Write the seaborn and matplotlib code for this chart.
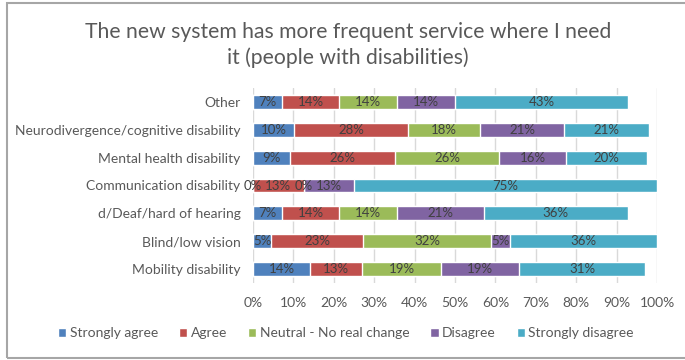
import numpy as np
import pandas as pd
import matplotlib.pyplot as plt
import seaborn as sns
from matplotlib.patches import Rectangle

# Chart data (percent of respondents)
groups = [
    "Other",
    "Neurodivergence/cognitive disability",
    "Mental health disability",
    "Communication disability",
    "d/Deaf/hard of hearing",
    "Blind/low vision",
    "Mobility disability",
]
responses = ["Strongly agree", "Agree", "Neutral - No real change", "Disagree", "Strongly disagree"]
strongly_agree = [7.1, 10.2, 9.2, 0.0, 7.1, 4.5, 14.1]
agree = [14.3, 28.1, 25.9, 12.5, 14.3, 22.7, 13.0]
neutral = [14.3, 17.9, 25.9, 0.0, 14.3, 31.8, 19.4]
disagree = [14.3, 20.8, 16.4, 12.5, 21.4, 4.5, 19.4]
strongly_disagree = [42.9, 20.9, 20.1, 75.0, 35.7, 36.4, 31.2]
x_ticks = [0, 10, 20, 30, 40, 50, 60, 70, 80, 90, 100]

colors = ["#4F81BD", "#C0504D", "#9BBB59", "#8064A2", "#4BACC6"]

df = pd.DataFrame(
    {"group": groups, responses[0]: strongly_agree, responses[1]: agree,
     responses[2]: neutral, responses[3]: disagree, responses[4]: strongly_disagree}
)
cum = df[responses].cumsum(axis=1)

sns.set_style("white")
plt.rcParams["font.family"] = ["Lato", "DejaVu Sans"]
text_col = "#595959"

fig = plt.figure(figsize=(6.85, 3.6), dpi=100)
ax = fig.add_axes([253 / 685, 1 - 283 / 360, 404 / 685, 195 / 360])

# stacked look: draw cumulative totals from the longest down
for resp, col in reversed(list(zip(responses, colors))):
    sns.barplot(x=cum[resp], y=df["group"], orient="h", color=col,
                width=0.5, saturation=1, ax=ax, zorder=3, label=resp)

# data labels centred in each segment
for i, g in enumerate(groups):
    start = 0.0
    for resp in responses:
        v = df.loc[i, resp]
        ax.text(start + v / 2, i, f"{int(np.floor(v + 0.5))}%", ha="center", va="center",
                fontsize=9.5, color="#404040", zorder=5)
        start += v

ax.set_xlim(0, 100)
ax.set_ylim(6.5, -0.5)
ax.set_xticks(x_ticks)
ax.set_xticklabels([f"{t}%" for t in x_ticks])
ax.xaxis.grid(True, color="#D9D9D9", linewidth=1, zorder=0)
ax.set_axisbelow(True)
ax.tick_params(axis="both", length=0, labelsize=10, labelcolor=text_col)
ax.tick_params(axis="y", pad=9)
ax.tick_params(axis="x", pad=10)
ax.set_xlabel("")
ax.set_ylabel("")
for s in ax.spines.values():
    s.set_visible(False)

handles, labels = ax.get_legend_handles_labels()
order = [labels.index(r) for r in responses]
fig.legend([handles[k] for k in order], responses, loc="center",
           bbox_to_anchor=(346 / 685, 1 - 333 / 360), ncol=5, frameon=False,
           fontsize=10, handlelength=0.6, handleheight=0.6, handletextpad=0.25,
           columnspacing=1.5, labelcolor=text_col)
ax.legend_.remove() if ax.legend_ else None

fig.text(348 / 685, 1 - 45 / 360,
         "The new system has more frequent service where I need\nit (people with disabilities)",
         ha="center", va="center", fontsize=15.2, color=text_col, linespacing=1.3)

fig.patches.append(Rectangle((7 / 685, 2 / 360), 1.0, 355 / 360, transform=fig.transFigure,
                             fill=False, edgecolor="#A6A6A6", linewidth=1.5))

fig.savefig("out.png", dpi=100)
